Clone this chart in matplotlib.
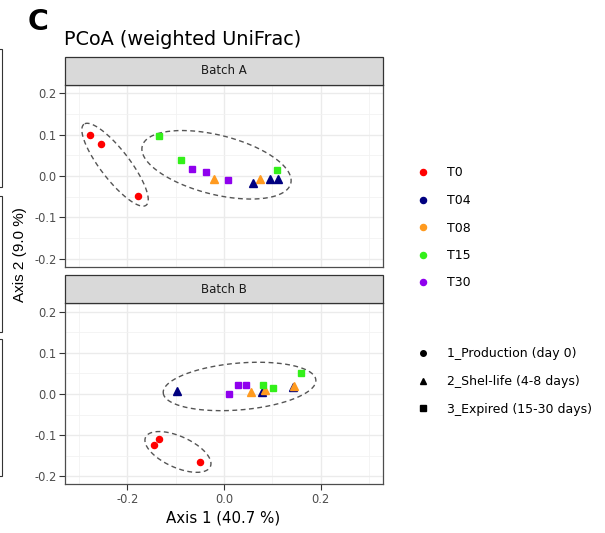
import numpy as np
import matplotlib
matplotlib.use("Agg")
import matplotlib.pyplot as plt
from matplotlib.lines import Line2D
from matplotlib.patches import Rectangle

plt.rcParams['font.family'] = ['DejaVu Sans']
NARROW = ['Liberation Sans', 'DejaVu Sans']

# ---------------- data ----------------
times = ['T0', 'T04', 'T08', 'T15', 'T30']
stage_labels = ['1_Production (day 0)', '2_Shel-life (4-8 days)', '3_Expired (15-30 days)']
time_stage = {'T0': 0, 'T04': 1, 'T08': 1, 'T15': 2, 'T30': 2}

batch_a_time = ['T0', 'T0', 'T0', 'T15', 'T15', 'T15', 'T30', 'T30', 'T30',
                'T08', 'T08', 'T04', 'T04', 'T04']
batch_a_x = [-0.277, -0.254, -0.177, -0.134, -0.089, 0.110, -0.066, -0.037, 0.008,
             -0.021, 0.074, 0.061, 0.095, 0.111]
batch_a_y = [0.100, 0.077, -0.048, 0.097, 0.040, 0.015, 0.016, 0.010, -0.009,
             -0.006, -0.007, -0.018, -0.008, -0.006]

batch_b_time = ['T0', 'T0', 'T0', 'T04', 'T04', 'T04', 'T08', 'T08', 'T08',
                'T15', 'T15', 'T15', 'T30', 'T30', 'T30']
batch_b_x = [-0.135, -0.145, -0.049, -0.097, 0.078, 0.142, 0.057, 0.086, 0.144,
             0.080, 0.101, 0.160, 0.011, 0.030, 0.045]
batch_b_y = [-0.109, -0.125, -0.166, 0.008, 0.004, 0.018, 0.006, 0.009, 0.019,
             0.021, 0.015, 0.050, 0.000, 0.021, 0.022]

x_ticks = [-0.2, 0.0, 0.2]
x_ticklabels = ['-0.2', '0.0', '0.2']
y_ticks = [-0.2, -0.1, 0.0, 0.1, 0.2]
y_ticklabels = ['-0.2', '-0.1', '0.0', '0.1', '0.2']

# ---------------- style ----------------
colors = {'T0': '#FF0000', 'T04': '#000080', 'T08': '#FF9A1F', 'T15': '#33F01A', 'T30': '#8F00EE'}
markers = ['o', '^', 's']
msizes = [4.4, 5.2, 4.1]

W, H = 605, 533
fig = plt.figure(figsize=(W / 100, H / 100), dpi=100)


def px_axes(l, t, r, b):
    return fig.add_axes([l / W, 1 - b / H, (r - l) / W, (b - t) / H])


def style_axes(ax, show_x, strip_text, height_px):
    ax.set_xlim(-0.329, 0.3286)
    ax.set_ylim(-0.2195, 0.2205)
    ax.set_facecolor('white')
    ax.set_xticks(x_ticks)
    ax.set_xticks([-0.3, -0.1, 0.1, 0.3], minor=True)
    ax.set_yticks(y_ticks)
    ax.set_yticks([-0.15, -0.05, 0.05, 0.15], minor=True)
    ax.set_yticklabels(y_ticklabels)
    if show_x:
        ax.set_xticklabels(x_ticklabels)
    else:
        ax.set_xticklabels([])
    ax.grid(True, which='major', color='#EBEBEB', lw=1.0)
    ax.grid(True, which='minor', color='#F2F2F2', lw=0.6)
    ax.set_axisbelow(True)
    ax.tick_params(which='minor', length=0)
    ax.tick_params(which='major', length=4.2, width=0.8, color='#333333',
                   labelcolor='#4D4D4D', labelsize=8.3, pad=1.8)
    if not show_x:
        ax.tick_params(axis='x', which='major', length=0)
    for s in ax.spines.values():
        s.set_color('#4D4D4D')
        s.set_linewidth(0.9)
    sh = 28.3 / height_px
    ax.add_patch(Rectangle((0, 1), 1, sh, transform=ax.transAxes, clip_on=False,
                           facecolor='#D9D9D9', edgecolor='#333333', lw=0.9, zorder=5))
    ax.text(0.5, 1 + sh / 2, strip_text, transform=ax.transAxes, ha='center', va='center',
            fontsize=8.5, color='#1A1A1A', zorder=6)


def draw_group_ellipse(ax, xs, ys, margin_a=9.0, scale_a=1.08, margin_b=8.0, frac_b=0.1):
    pts = ax.transData.transform(np.column_stack([xs, ys]))
    c0 = pts.mean(axis=0)
    cov = np.cov((pts - c0).T)
    w, v = np.linalg.eigh(cov)
    u_major = v[:, 1]
    u_minor = v[:, 0]
    pa = (pts - c0) @ u_major
    pb = (pts - c0) @ u_minor
    center = c0 + u_major * (pa.max() + pa.min()) / 2 + u_minor * (pb.max() + pb.min()) / 2
    a = scale_a * (pa.max() - pa.min()) / 2 + margin_a
    b = (pb.max() - pb.min()) / 2 + margin_b + frac_b * a
    t = np.linspace(0, 2 * np.pi, 300)
    curve = center + np.outer(a * np.cos(t), u_major) + np.outer(b * np.sin(t), u_minor)
    d = ax.transData.inverted().transform(curve)
    ax.plot(d[:, 0], d[:, 1], color='#555555', lw=1.0, ls=(0, (3.5, 2.5)), zorder=2)


def draw_panel(ax, tlist, xs, ys):
    xs = np.array(xs)
    ys = np.array(ys)
    tarr = np.array(tlist)
    # ellipses: T0 vs. later time points
    g0 = tarr == 'T0'
    draw_group_ellipse(ax, xs[g0], ys[g0])
    draw_group_ellipse(ax, xs[~g0], ys[~g0])
    for t, x, y in zip(tlist, xs, ys):
        st = time_stage[t]
        ax.plot([x], [y], marker=markers[st], ms=msizes[st], color=colors[t],
                mec=colors[t], ls='none', zorder=3)


axA = px_axes(65, 85, 382.7, 266.7)
axB = px_axes(65, 303.3, 382.7, 484.3)
style_axes(axA, False, 'Batch A', 181.7)
style_axes(axB, True, 'Batch B', 181.0)
draw_panel(axA, batch_a_time, batch_a_x, batch_a_y)
draw_panel(axB, batch_b_time, batch_b_x, batch_b_y)

# titles and axis labels
fig.text(28 / W, 1 - 30 / H, 'C', fontsize=20.5, fontweight='bold', va='baseline', ha='left')
fig.text(63.5 / W, 1 - 45 / H, 'PCoA (weighted UniFrac)', fontsize=13.9, va='baseline', ha='left')
fig.text(223.5 / W, 1 - 518 / H, 'Axis 1 (40.7 %)', fontsize=10.8, ha='center', va='center')
fig.text(20.5 / W, 1 - 255 / H, 'Axis 2 (9.0 %)', fontsize=11, ha='center', va='center',
         rotation=90, family=NARROW)

# legends
fs_leg = 9.0
h1 = [Line2D([], [], marker='o', ls='none', color=colors[t], ms=4.4) for t in times]
leg1 = fig.legend(h1, times, loc='upper left', bbox_to_anchor=(416.7 / W, 1 - 166.5 / H),
                  frameon=False, fontsize=fs_leg, handlelength=1.0, handletextpad=1.4,
                  labelspacing=1.16, borderpad=0, borderaxespad=0)
h2 = [Line2D([], [], marker=markers[i], ls='none', color='black', ms=[4.0, 4.8, 3.8][i])
      for i in range(3)]
leg2 = fig.legend(h2, stage_labels, loc='upper left', bbox_to_anchor=(416.7 / W, 1 - 347.5 / H),
                  frameon=False, fontsize=fs_leg, handlelength=1.0, handletextpad=1.4,
                  labelspacing=1.16, borderpad=0, borderaxespad=0)

# edge remnants of the neighbouring panel at the far left
for top, bot in [(49.3, 186.7), (195.7, 332.3), (339.3, 475.7)]:
    fig.add_artist(Rectangle((-12 / W, 1 - bot / H), 13.5 / W, (bot - top) / H,
                             transform=fig.transFigure, fill=False,
                             edgecolor='#333333', lw=0.8))

fig.savefig('out.png', dpi=100)
